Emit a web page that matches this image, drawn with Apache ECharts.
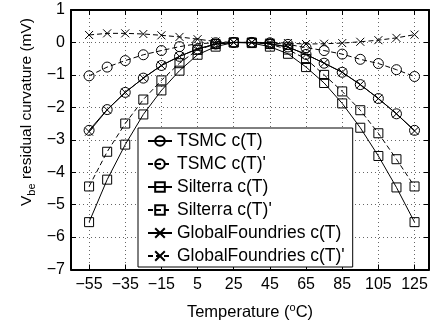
<!DOCTYPE html>
<html>
<head>
<meta charset="utf-8">
<script src="https://cdn.jsdelivr.net/npm/echarts@6/dist/echarts.min.js"></script>
<style>
html,body{margin:0;padding:0;background:#fff;}
#chart{width:433px;height:326px;}
</style>
</head>
<body>
<div id="chart"></div>
<script>
const temps = [-55,-45,-35,-25,-15,-5,5,15,25,35,45,55,65,75,85,95,105,115,125];
const xTicks = [-55,-35,-15,5,25,45,65,85,105,125];
const yTicks = [-7,-6,-5,-4,-3,-2,-1,0,1];
const tsmcC      = [-2.71,-2.07,-1.54,-1.10,-0.71,-0.43,-0.20,-0.05,0,0,-0.04,-0.14,-0.37,-0.64,-0.92,-1.30,-1.73,-2.20,-2.71];
const tsmcCp     = [-1.03,-0.76,-0.56,-0.38,-0.25,-0.13,-0.04,-0.01,0,0,-0.01,-0.06,-0.16,-0.25,-0.36,-0.52,-0.65,-0.84,-1.05];
const silterraC  = [-5.54,-4.23,-3.15,-2.22,-1.48,-0.87,-0.38,-0.13,0,-0.02,-0.13,-0.35,-0.76,-1.25,-1.88,-2.63,-3.50,-4.47,-5.54];
const silterraCp = [-4.44,-3.37,-2.50,-1.76,-1.17,-0.64,-0.23,-0.05,0,0,-0.05,-0.22,-0.51,-1.00,-1.51,-2.09,-2.80,-3.60,-4.44];
const gfC        = [-2.75,-2.08,-1.54,-1.10,-0.71,-0.43,-0.20,-0.05,0,0,-0.04,-0.14,-0.37,-0.64,-0.92,-1.30,-1.73,-2.20,-2.73];
const gfCp       = [0.23,0.28,0.28,0.26,0.22,0.17,0.10,0.03,0,0,0,-0.02,-0.05,-0.04,-0.02,0.02,0.07,0.14,0.24];
const names = ['TSMC c(T)', "TSMC c(T)'", 'Silterra c(T)', "Silterra c(T)'", 'GlobalFoundries c(T)', "GlobalFoundries c(T)'"];

const FONT = "'Liberation Sans', Arial, Helvetica, sans-serif";
const minus = v => String(v).replace('-', '\u2212');
const crossPath = 'path://M0,0L10,10M10,0L0,10';
const dash = [5, 3];

function mk(name, vals, symbol, dashed, size) {
  return {
    name: name,
    type: 'line',
    data: temps.map((t, i) => [t, vals[i]]),
    symbol: symbol,
    symbolSize: size,
    showAllSymbol: true,
    animation: false,
    lineStyle: {color: '#000', width: 1, type: dashed ? dash : 'solid'},
    itemStyle: {color: 'rgba(255,255,255,0)', borderColor: '#000', borderWidth: 1}
  };
}

const chart = echarts.init(document.getElementById('chart'), null, {renderer: 'canvas'});
const axisLine = {show: true, onZero: false, lineStyle: {color: '#000', width: 2}};
const grid = {show: true, lineStyle: {color: '#666', width: 1, type: [1, 3]}};
chart.setOption({
  animation: false,
  textStyle: {fontFamily: FONT},
  grid: {left: 71, right: 4, top: 10, bottom: 55},
  graphic: [{
    type: 'text',
    x: 27, y: 112,
    rotation: Math.PI / 2,
    style: {
      text: '{n|V}{sub|be}{n| residual curvature (mV)}',
      align: 'center', verticalAlign: 'middle',
      rich: {
        n: {fontSize: 15.5, fill: '#000', fontFamily: FONT},
        sub: {fontSize: 11, fill: '#000', fontFamily: FONT, padding: [9, 0, 0, 0]}
      }
    }
  }],
  xAxis: [{
    type: 'value', min: -65, max: 133, position: 'bottom',
    axisLine: axisLine,
    axisTick: {show: true, inside: true, length: 5, customValues: xTicks, lineStyle: {color: '#000'}},
    axisLabel: {customValues: xTicks, formatter: minus, color: '#000', fontSize: 16, margin: 7, fontFamily: FONT},
    splitLine: grid,
    name: '{n|Temperature (}{sup|o}{n|C)}',
    nameLocation: 'middle', nameGap: 33,
    nameTextStyle: {rich: {n: {fontSize: 16.5, color: '#000', fontFamily: FONT}, sup: {fontSize: 11, color: '#000', fontFamily: FONT, padding: [0, 0, 9, 0]}}}
  }, {
    type: 'value', min: -65, max: 133, position: 'top',
    axisLine: axisLine,
    axisTick: {show: true, inside: true, length: 5, customValues: xTicks, lineStyle: {color: '#000'}},
    axisLabel: {show: false},
    splitLine: {show: false}
  }],
  yAxis: [{
    type: 'value', min: -7, max: 1, interval: 1, position: 'left',
    axisLine: axisLine,
    axisTick: {show: true, inside: true, length: 5, lineStyle: {color: '#000'}},
    axisLabel: {formatter: minus, color: '#000', fontSize: 16, margin: 6, fontFamily: FONT},
    splitLine: grid
  }, {
    type: 'value', min: -7, max: 1, interval: 1, position: 'right',
    axisLine: axisLine,
    axisTick: {show: true, inside: true, length: 5, lineStyle: {color: '#000'}},
    axisLabel: {show: false},
    splitLine: {show: false}
  }],
  legend: {
    orient: 'vertical', left: 138, top: 128,
    data: names,
    itemWidth: 24, itemHeight: 12, itemGap: 5,
    padding: [4, 8, 2, 9],
    backgroundColor: '#fff', borderColor: '#000', borderWidth: 1, borderRadius: 0,
    textStyle: {fontSize: 17.5, color: '#000', fontFamily: FONT, lineHeight: 17}
  },
  series: [
    mk(names[0], tsmcC, 'circle', false, 10),
    mk(names[1], tsmcCp, 'circle', true, 10),
    mk(names[2], silterraC, 'rect', false, 9),
    mk(names[3], silterraCp, 'rect', true, 9),
    mk(names[4], gfC, crossPath, false, 8),
    mk(names[5], gfCp, crossPath, true, 8)
  ]
});
</script>
</body>
</html>
